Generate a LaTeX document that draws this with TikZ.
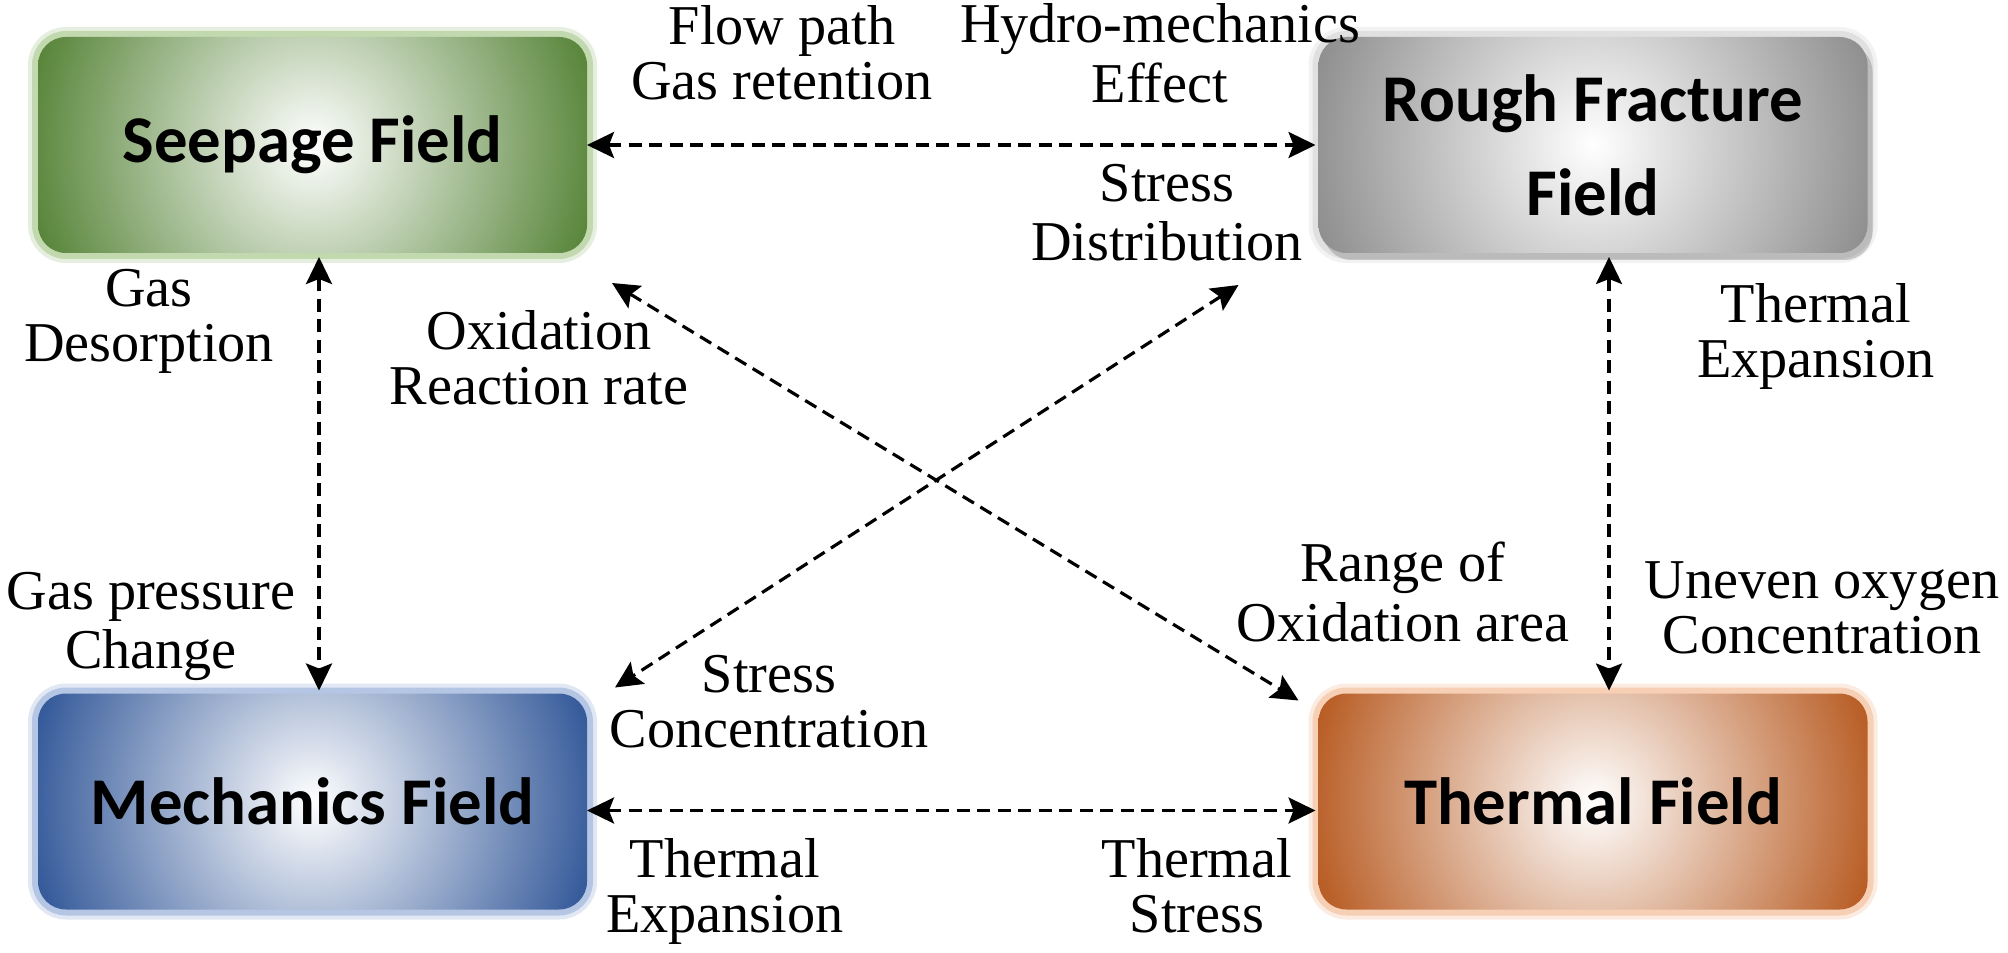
\documentclass[tikz,border=0pt]{standalone}
\usepackage{fontspec}
\setmainfont{Liberation Serif}
\newfontfamily\boxfont{Carlito}
\usetikzlibrary{arrows.meta,calc,shadows}
\definecolor{seepC}{RGB}{84,130,53}
\definecolor{seepG}{RGB}{185,212,165}
\definecolor{mechC}{RGB}{47,85,151}
\definecolor{mechG}{RGB}{170,190,225}
\definecolor{thermC}{RGB}{182,88,30}
\definecolor{thermG}{RGB}{245,200,170}
\definecolor{roughC}{RGB}{140,140,140}
\definecolor{roughG}{RGB}{220,220,220}
\tikzset{
  field/.style n args={2}{rectangle, rounded corners=2.8mm,
     minimum width=54.9mm, minimum height=21.6mm, inner sep=0pt, outer sep=0pt,
     align=center, font=\boxfont\bfseries\fontsize{19}{26.7}\selectfont,
     preaction={draw=#2, line width=2mm, opacity=0.35},
     preaction={draw=#2, line width=1.2mm, opacity=0.8},
     path picture={\shade[inner color=white, outer color=#1]
        (path picture bounding box.center) circle (2.95cm);}},
  lbl/.style={font=\fontsize{16}{15.8}\selectfont, align=center, inner sep=0pt},
  link/.style={dash pattern=on 1.3mm off 0.75mm, line width=0.9pt,
     >={Stealth[length=2.7mm,width=2.6mm,inset=0.5mm]}, <->}
}
\begin{document}
\begin{tikzpicture}[x=0.1mm, y=-0.1mm]
\useasboundingbox[fill=white] (0,0) rectangle (2008,952);

% field boxes
\node[field={seepC}{seepG}] (seep) at (312.5,145) {Seepage Field};
\node[field={roughC}{roughG}, drop shadow={shadow xshift=0.5mm, shadow yshift=-0.7mm, opacity=0.3, fill=black!60}] (rough) at (1593,145) {Rough Fracture\\Field};
\node[field={mechC}{mechG}] (mech) at (312.5,801.5) {Mechanics Field};
\node[field={thermC}{thermG}] (therm) at (1593,801.5) {Thermal Field};

% free ends of the diagonal connectors
\coordinate (d1s) at ($(seep.south east)+(25,30)$);
\coordinate (d1e) at ($(therm.north west)+(-20,7)$);
\coordinate (d2s) at ($(rough.south west)+(-80,32)$);
\coordinate (d2e) at ($(mech.north east)+(28,-6)$);

% connectors
\draw[link] (seep.east) -- ([xshift=-0.3mm]rough.west);
\draw[link] ([yshift=-0.9mm]mech.east) -- ([yshift=-0.9mm,xshift=-0.3mm]therm.west);
\draw[link] ([xshift=0.65mm,yshift=-0.4mm]seep.south) -- ([xshift=0.65mm,yshift=0.3mm]mech.north);
\draw[link] ([xshift=1.6mm,yshift=-0.4mm]rough.south) -- ([xshift=1.6mm,yshift=0.3mm]therm.north);
\draw[link] (d1s) -- (d1e);
\draw[link] (d2s) -- (d2e);

% labels
\node[lbl] (lflow)  at (782,61)   {\strut Flow path\\\strut Gas retention};
\node[lbl] (lhydro) at (1160,61)  {\strut Hydro-mechanics\\\strut Effect};
\node[lbl] (lsdist) at (1167,220) {\strut Stress\\\strut Distribution};
\node[lbl] (lgasd)  at (149,323)  {\strut Gas\\\strut Desorption};
\node[lbl] (loxr)   at (539,366)  {\strut Oxidation\\\strut Reaction rate};
\node[lbl] (lthx)   at (1816,339) {\strut Thermal\\\strut Expansion};
\node[lbl] (lgasp)  at (151,628)  {\strut Gas pressure\\\strut Change};
\node[lbl] (lrange) at (1403,600) {\strut Range of\\\strut Oxidation area};
\node[lbl] (lunev)  at (1822,615) {\strut Uneven oxygen\\\strut Concentration};
\node[lbl] (lsconc) at (769,709)  {\strut Stress\\\strut Concentration};
\node[lbl] (lthxb)  at (725,894)  {\strut Thermal\\\strut Expansion};
\node[lbl] (lths)   at (1197,894) {\strut Thermal\\\strut Stress};
\end{tikzpicture}
\end{document}
